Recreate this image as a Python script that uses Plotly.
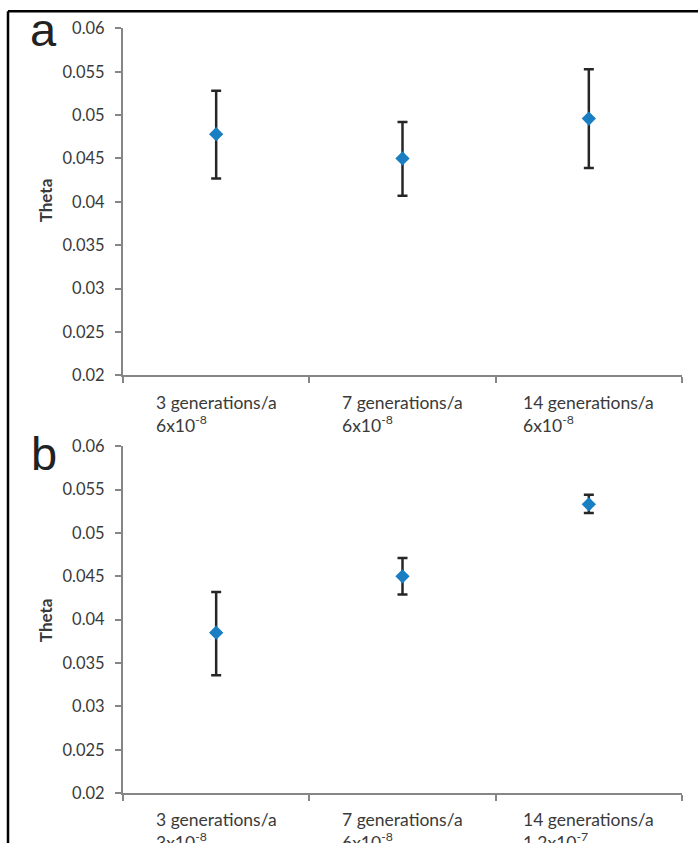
import plotly.graph_objects as go

# ---- data ----
categories = ["3 generations/a", "7 generations/a", "14 generations/a"]
rates_a = ["6x10<sup>-8</sup>", "6x10<sup>-8</sup>", "6x10<sup>-8</sup>"]
rates_b = ["3x10<sup>-8</sup>", "6x10<sup>-8</sup>", "1.2x10<sup>-7</sup>"]

theta_a = [0.0478, 0.0450, 0.0496]
upper_a = [0.0528, 0.0492, 0.0553]
lower_a = [0.0427, 0.0407, 0.0439]

theta_b = [0.0385, 0.0450, 0.0533]
upper_b = [0.0432, 0.0471, 0.0544]
lower_b = [0.0336, 0.0429, 0.0523]

ytick_vals = [0.02, 0.025, 0.03, 0.035, 0.04, 0.045, 0.05, 0.055, 0.06]
ytick_text = ["0.02", "0.025", "0.03", "0.035", "0.04", "0.045", "0.05", "0.055", "0.06"]

W = 698
# the photographed page is slightly squeezed vertically; compensate
SQ, OFF = 0.977, 9.6
H = 855
AXIS_COLOR = "#868686"
TEXT_COLOR = "#3a3a3a"
FONT = "Lato"


def fy(target):
    """figure pixel for a target (photographed) vertical pixel"""
    return max(0.0, (target - OFF) / SQ)


def py(target):
    return 1 - fy(target) / H


fig = go.Figure()

for (vals, up, lo, xa, ya) in [
    (theta_a, upper_a, lower_a, "x", "y"),
    (theta_b, upper_b, lower_b, "x2", "y2"),
]:
    fig.add_trace(go.Scatter(
        x=categories, y=vals, xaxis=xa, yaxis=ya, mode="markers",
        marker=dict(symbol="diamond", size=11, color="#1a7fc2", line=dict(width=0)),
        error_y=dict(type="data", symmetric=False,
                     array=[u - v for u, v in zip(up, vals)],
                     arrayminus=[v - l for v, l in zip(vals, lo)],
                     color="#262626", thickness=2.5, width=5),
        showlegend=False, cliponaxis=False,
    ))

xdom = [123 / W, 682 / W]
common_x = dict(type="category", range=[-0.5, 2.5], showline=True, linecolor=AXIS_COLOR,
                linewidth=2, ticks="outside", ticklen=6, tickcolor=AXIS_COLOR, tickwidth=2,
                tickson="boundaries", showticklabels=False, showgrid=False,
                zeroline=False, domain=xdom, fixedrange=True)
common_y = dict(range=[0.02, 0.06], tickvals=ytick_vals, ticktext=ytick_text,
                showline=True, linecolor=AXIS_COLOR, linewidth=2,
                ticks="outside", ticklen=6, tickcolor=AXIS_COLOR, tickwidth=2,
                showgrid=False, zeroline=False, ticklabelstandoff=7,
                tickfont=dict(family=FONT, size=16.5, color=TEXT_COLOR))

fig.update_layout(
    width=W, height=H, autosize=False,
    margin=dict(l=0, r=0, t=0, b=0),
    paper_bgcolor="white", plot_bgcolor="white",
    xaxis=dict(common_x, anchor="y"),
    yaxis=dict(common_y, domain=[py(375), py(28)], anchor="x"),
    xaxis2=dict(common_x, anchor="y2"),
    yaxis2=dict(common_y, domain=[py(793), py(446)], anchor="x2"),
)

annotations = []
for i, cat in enumerate(categories):
    annotations.append(dict(
        text=cat + "<br>" + rates_a[i], x=i, xref="x", y=py(390), yref="paper",
        xanchor="center", yanchor="top", align="left", showarrow=False,
        font=dict(family=FONT, size=17.5, color=TEXT_COLOR)))
    annotations.append(dict(
        text=cat + "<br>" + rates_b[i], x=i, xref="x2", y=py(807), yref="paper",
        xanchor="center", yanchor="top", align="left", showarrow=False,
        font=dict(family=FONT, size=17.5, color=TEXT_COLOR)))

for yc in (200, 620):
    annotations.append(dict(text="<b>Theta</b>", textangle=-90, x=45 / W, y=py(yc),
                            xref="paper", yref="paper", xanchor="center", yanchor="middle",
                            showarrow=False,
                            font=dict(family=FONT, size=17, color=TEXT_COLOR)))

annotations.append(dict(text="a", x=43.5 / W, y=py(29), xref="paper", yref="paper",
                        xanchor="center", yanchor="middle", showarrow=False,
                        font=dict(family="Liberation Sans", size=47, color="#222222")))
annotations.append(dict(text="b", x=43.5 / W, y=py(453), xref="paper", yref="paper",
                        xanchor="center", yanchor="middle", showarrow=False,
                        font=dict(family="Liberation Sans", size=47, color="#222222")))
fig.update_layout(annotations=annotations)

# frame lines (top and left)
top_y = 1 - 1.2 / H
fig.add_shape(type="line", xref="paper", yref="paper", x0=8 / W, x1=1, y0=top_y, y1=top_y,
              line=dict(color="black", width=2.5))
fig.add_shape(type="line", xref="paper", yref="paper", x0=8 / W, x1=8 / W, y0=0, y1=top_y,
              line=dict(color="black", width=2.5))

post = ("var d=document.getElementById('{plot_id}');"
        "document.documentElement.style.margin='0';document.body.style.margin='0';"
        "document.documentElement.style.overflow='hidden';document.body.style.overflow='hidden';"
        "d.style.position='fixed';d.style.left='0px';d.style.top='0px';")

fig.write_html("out.html", post_script=post, config={"displayModeBar": False})
